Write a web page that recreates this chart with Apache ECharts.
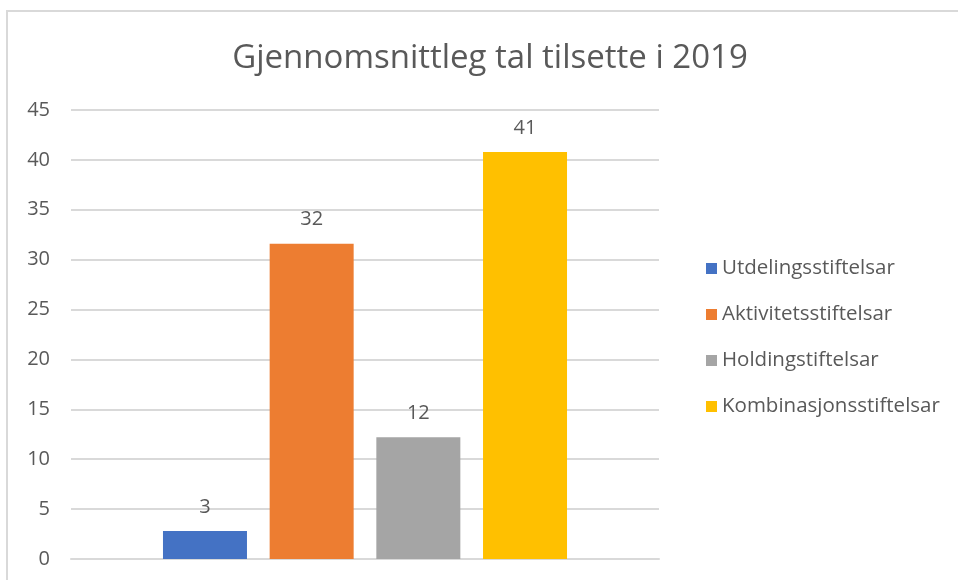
<!DOCTYPE html>
<html>
<head>
<meta charset="utf-8">
<script src="https://cdn.jsdelivr.net/npm/echarts@6/dist/echarts.min.js"></script>
<style>
  html, body { margin: 0; padding: 0; background: #fff; }
  #chart { width: 958px; height: 580px; }
</style>
</head>
<body>
<div id="chart"></div>
<script>
var categories = ['2019'];
var seriesNames = ['Utdelingsstiftelsar', 'Aktivitetsstiftelsar', 'Holdingstiftelsar', 'Kombinasjonsstiftelsar'];
var seriesValues = [2.8, 31.6, 12.2, 40.8];
var seriesColors = ['#4472C4', '#ED7D31', '#A5A5A5', '#FFC000'];
var yTicks = [0, 5, 10, 15, 20, 25, 30, 35, 40, 45];

var textColor = '#595959';
var fontName = '"Open Sans", Lato, sans-serif';

var chart = echarts.init(document.getElementById('chart'));

// one series per type, like the excel chart
var series = seriesNames.map(function (name, i) {
    return {
        name: name,
        type: 'bar',
        data: [seriesValues[i]],
        barWidth: 84,
        barGap: '27%',
        itemStyle: { color: seriesColors[i] },
        label: {
            show: true,
            position: 'top',
            distance: 14,
            color: textColor,
            fontSize: 20,
            fontFamily: fontName,
            formatter: function (p) { return Math.round(p.value); }
        }
    };
});

chart.setOption({
    animation: false,
    backgroundColor: '#fff',
    title: {
        text: 'Gjennomsnittleg tal tilsette i 2019',
        left: 485,
        textAlign: 'center',
        top: 37,
        textStyle: {
            color: textColor,
            fontSize: 33,
            fontWeight: 'normal',
            fontFamily: fontName
        }
    },
    legend: {
        orient: 'vertical',
        left: 701,
        top: 253,
        itemWidth: 11,
        itemHeight: 11,
        itemGap: 25,
        icon: 'rect',
        data: seriesNames,
        textStyle: {
            color: textColor,
            fontSize: 20.5,
            fontFamily: fontName,
            padding: [0, 0, 0, 0]
        }
    },
    graphic: [{
        type: 'rect',
        shape: { x: 7, y: 11, width: 1100, height: 1000 },
        style: { fill: null, stroke: '#d9d9d9', lineWidth: 2 },
        silent: true
    }],
    grid: {
        left: 71,
        right: 299,
        top: 110,
        bottom: 21,
        containLabel: false
    },
    xAxis: {
        type: 'category',
        data: categories,
        axisLine: { show: true, lineStyle: { color: '#d9d9d9', width: 2 } },
        axisTick: { show: false },
        axisLabel: { show: false }
    },
    yAxis: {
        type: 'value',
        min: yTicks[0],
        max: yTicks[yTicks.length - 1],
        interval: 5,
        axisLine: { show: false },
        axisTick: { show: false },
        axisLabel: {
            color: textColor,
            fontSize: 20,
            fontFamily: fontName,
            margin: 21
        },
        splitLine: { lineStyle: { color: '#d9d9d9', width: 2 } }
    },
    series: series
});
</script>
</body>
</html>
